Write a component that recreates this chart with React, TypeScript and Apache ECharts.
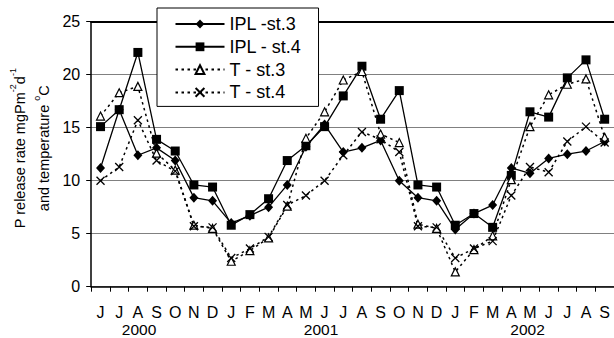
import React, { useEffect, useRef } from "react";
import * as echarts from "echarts";

const months = ["J","J","A","S","O","N","D","J","F","M","A","M","J","J","A","S","O","N","D","J","F","M","A","M","J","J","A","S"];
const years = ["2000", "2001", "2002"];
const yearX = [139, 321, 527.5];

const iplSt3 = [11.2, 16.7, 12.4, 13.1, 11.9, 8.4, 8.1, 6.0, 6.7, 7.5, 9.6, 13.2, 15.3, 12.7, 13.1, 13.8, 10.0, 8.4, 8.1, 5.4, 6.9, 7.7, 11.2, 10.7, 12.1, 12.5, 12.8, 13.7];
const iplSt4 = [15.1, 16.7, 22.1, 13.9, 12.8, 9.6, 9.4, 5.8, 6.8, 8.3, 11.9, 13.3, 15.1, 18.0, 20.8, 15.8, 18.5, 9.6, 9.4, 5.8, 6.9, 5.6, 10.5, 16.5, 16.0, 19.7, 21.4, 15.8];
const tSt3 = [16.1, 18.3, 18.9, 12.6, 11.0, 5.8, 5.5, 2.4, 3.4, 4.6, 7.6, 14.0, 16.5, 19.5, 20.3, 14.4, 13.6, 5.9, 5.5, 1.4, 3.5, 4.8, 10.1, 15.1, 18.1, 19.1, 19.6, 14.1];
const tSt4 = [10.0, 11.3, 15.7, 11.9, 10.9, 5.7, 5.6, 2.7, 3.6, 4.7, 7.7, 8.6, 10.0, 12.4, 14.6, 13.9, 12.7, 5.7, 5.6, 2.7, 3.6, 4.3, 8.6, 11.3, 10.8, 13.7, 15.1, 13.6];

const FONT = "'Liberation Sans', Arial, sans-serif";

export default function App() {
  const ref = useRef<HTMLDivElement>(null);
  useEffect(() => {
    if (!ref.current) return;
    const chart = echarts.init(ref.current, null, { renderer: "svg" });
    const solid = { color: "#000", width: 1.3, type: "solid" as const };
    const dotted = { color: "#000", width: 1.5, type: [2.5, 3.5] as any };
    chart.setOption({
      animation: false,
      backgroundColor: "#fff",
      textStyle: { fontFamily: FONT, color: "#000" },
      grid: { left: 91, top: 21.7, bottom: 51.3, right: -1.4, containLabel: false },
      legend: {
        orient: "vertical",
        left: 157,
        top: 8,
        itemWidth: 49,
        itemHeight: 11,
        itemGap: 4.8,
        padding: [7, 17, 5, 17.5],
        borderColor: "#000",
        borderWidth: 1,
        backgroundColor: "#fff",
        textStyle: { fontSize: 18, color: "#000", fontFamily: FONT, lineHeight: 18 },
        data: ["IPL -st.3", "IPL - st.4", "T - st.3", "T - st.4"],
      },
      xAxis: [
        {
          type: "category",
          data: months,
          boundaryGap: true,
          axisLine: { lineStyle: { color: "#000", width: 1.5 } },
          axisTick: { show: true, length: 5, inside: false, alignWithLabel: false, interval: 0, lineStyle: { color: "#000" } },
          axisLabel: { interval: 0, fontSize: 16, color: "#000", margin: 18, fontFamily: FONT },
          splitLine: { show: false },
        },
        {
          type: "category",
          data: months,
          position: "top",
          axisLine: { show: true, lineStyle: { color: "#000", width: 2 } },
          axisTick: { show: false },
          axisLabel: { show: false },
          splitLine: { show: false },
        },
      ],
      yAxis: {
        type: "value",
        min: 0,
        max: 25,
        interval: 5,
        axisLine: { show: true, lineStyle: { color: "#000", width: 1.5 } },
        axisTick: { show: true, length: 5, inside: false, lineStyle: { color: "#000" } },
        axisLabel: { fontSize: 16, color: "#000", margin: 11, fontFamily: FONT },
        splitLine: { show: true, lineStyle: { color: "#808080", width: 1 } },
        name: "{a|P release rate mgPm}{s|-2}{a|d}{s|-1}\n{a|and temperature }{s|o}{a|C}",
        nameLocation: "middle",
        nameGap: 33,
        nameTextStyle: {
          padding: [0, 0, 0, 12],
          rich: {
            a: { fontSize: 14.5, lineHeight: 24, color: "#000", fontFamily: FONT },
            s: { fontSize: 9, lineHeight: 9, verticalAlign: "top", color: "#000", fontFamily: FONT },
          },
        },
      },
      graphic: years.map((y, i) => ({
        type: "text",
        x: yearX[i],
        y: 329,
        style: { text: y, fontSize: 15.5, fontFamily: FONT, fill: "#000", textAlign: "center", textVerticalAlign: "middle" },
      })),
      series: [
        {
          name: "IPL -st.3",
          type: "line",
          data: iplSt3,
          symbol: "diamond",
          symbolSize: [9, 10],
          lineStyle: solid,
          itemStyle: { color: "#000" },
          z: 4,
        },
        {
          name: "IPL - st.4",
          type: "line",
          data: iplSt4,
          symbol: "rect",
          symbolSize: 9,
          lineStyle: solid,
          itemStyle: { color: "#000" },
          z: 3,
        },
        {
          name: "T - st.3",
          type: "line",
          data: tSt3,
          symbol: "triangle",
          symbolSize: 8,
          lineStyle: dotted,
          itemStyle: { color: "#fff", borderColor: "#000", borderWidth: 1.2 },
          z: 5,
        },
        {
          name: "T - st.4",
          type: "line",
          data: tSt4,
          symbol: "path://M0,0L10,10M10,0L0,10",
          symbolSize: 8,
          lineStyle: dotted,
          itemStyle: { color: "#000", borderColor: "#000", borderWidth: 1.3 },
          z: 5,
        },
      ],
    });
    return () => chart.dispose();
  }, []);
  return <div ref={ref} style={{ position: "fixed", left: 0, top: 0, width: 614, height: 338 }} />;
}
